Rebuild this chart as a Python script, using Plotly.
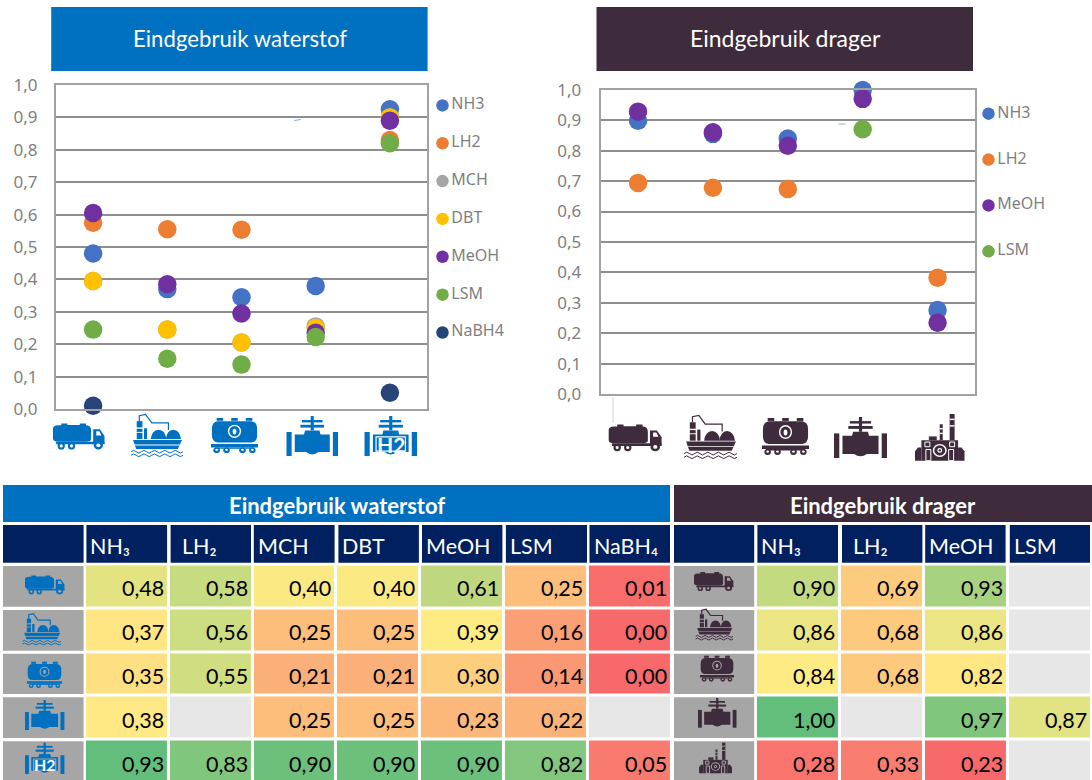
import re
import plotly.graph_objects as go

# ---------- data ----------
uses_h2 = ["Truck", "Ship", "Rail", "Pipeline", "Pipeline H2"]
uses_carrier = ["Truck", "Ship", "Rail", "Pipeline", "Industry"]

chart_h2_NH3 = [0.48, 0.37, 0.345, 0.38, 0.925]
chart_h2_LH2 = [0.575, 0.555, 0.553, None, 0.83]
chart_h2_MCH = [0.395, 0.245, 0.205, 0.255, 0.90]
chart_h2_DBT = [0.395, 0.245, 0.205, 0.25, 0.90]
chart_h2_MeOH = [0.605, 0.385, 0.295, 0.235, 0.89]
chart_h2_LSM = [0.245, 0.155, 0.137, 0.222, 0.82]
chart_h2_NaBH4 = [0.01, -0.002, -0.002, None, 0.05]

chart_c_NH3 = [0.898, 0.855, 0.84, 0.999, 0.277]
chart_c_LH2 = [0.694, 0.678, 0.674, None, 0.383]
chart_c_MeOH = [0.928, 0.86, 0.816, 0.97, 0.235]
chart_c_LSM = [None, None, None, 0.87, None]

table_h2_cols = ["NH₃", "LH₂", "MCH", "DBT", "MeOH", "LSM", "NaBH₄"]
table_h2_NH3 = [0.48, 0.37, 0.35, 0.38, 0.93]
table_h2_LH2 = [0.58, 0.56, 0.55, None, 0.83]
table_h2_MCH = [0.40, 0.25, 0.21, 0.25, 0.90]
table_h2_DBT = [0.40, 0.25, 0.21, 0.25, 0.90]
table_h2_MeOH = [0.61, 0.39, 0.30, 0.23, 0.90]
table_h2_LSM = [0.25, 0.16, 0.14, 0.22, 0.82]
table_h2_NaBH4 = [0.01, 0.00, 0.00, None, 0.05]

table_c_cols = ["NH₃", "LH₂", "MeOH", "LSM"]
table_c_NH3 = [0.90, 0.86, 0.84, 1.00, 0.28]
table_c_LH2 = [0.69, 0.68, 0.68, None, 0.33]
table_c_MeOH = [0.93, 0.86, 0.82, 0.97, 0.23]
table_c_LSM = [None, None, None, 0.87, None]

series_h2 = [("NH3", chart_h2_NH3), ("LH2", chart_h2_LH2), ("MCH", chart_h2_MCH), ("DBT", chart_h2_DBT),
             ("MeOH", chart_h2_MeOH), ("LSM", chart_h2_LSM), ("NaBH4", chart_h2_NaBH4)]
series_c = [("NH3", chart_c_NH3), ("LH2", chart_c_LH2), ("MeOH", chart_c_MeOH), ("LSM", chart_c_LSM)]
colors = {"NH3": "#4472C4", "LH2": "#ED7D31", "MCH": "#A5A5A5", "DBT": "#FFC000",
          "MeOH": "#7030A0", "LSM": "#70AD47", "NaBH4": "#264478"}

# ---------- layout helpers (pixels -> paper) ----------
W, H = 1092, 780
BLUE, PLUM, NAVY, ICONBG = "#0070C0", "#3E2B3C", "#002060", "#A6A6A6"
GRID, FRAME, TICK = "#8E8E8E", "#A2A2A2", "#7F7F7F"
fx = lambda x: x / W
fy = lambda y: 1 - y / H
dom_x = lambda a, b: [fx(a), fx(b)]
dom_y = lambda top, bottom: [fy(bottom), fy(top)]
shapes, notes = [], []


def rect(x0, y0, x1, y1, c):
    shapes.append(dict(type="rect", xref="paper", yref="paper", x0=fx(x0), x1=fx(x1), y0=fy(y0), y1=fy(y1),
                       fillcolor=c, line=dict(width=0)))


def text(x, y, s, size, color="white", anchor="center", family="Lato", weight=None):
    f = dict(family=family, size=size, color=color)
    if weight:
        f["weight"] = weight
    notes.append(dict(xref="paper", yref="paper", x=fx(x), y=fy(y), text=s, showarrow=False,
                      xanchor=anchor, yanchor="middle", font=f))


TRUCK = [("p", "M0 22 Q0 10 10 9 L16 9 L16 2 L28 2 L28 8 L52 8 L52 2 L64 2 L64 9 L68 10 Q74 14 74 30 L74 62 Q74 72 64 72 L10 72 Q0 72 0 60 Z", "f"),
         ("p", "M78 24 L91 24 L100 50 L100 80 L78 80 Z", "f"),
         ("p", "M84 32 L90 32 L94 48 L84 48 Z", "b"),
         ("r", 6, 72, 100, 82, "f"),
         ("c", 16, 88, 7, 14, "f"), ("c", 16, 88, 3, 6, "b"),
         ("c", 36, 88, 7, 14, "f"), ("c", 36, 88, 3, 6, "b"),
         ("c", 88, 86, 9, 16, "f"), ("c", 88, 86, 4, 7, "b")]
SHIP = [("r", 11, 18, 22, 58, "f"), ("r", 25, 34, 31, 58, "f"), ("r", 9, 32, 24, 35, "b"), ("r", 9, 42, 24, 44, "b"),
        ("l", "M16 18 L16 6 L28 3 L40 22 L72 22 L72 38", 1.2),
        ("p", "M38 58 Q40 38 53 37 Q66 38 68 58 Z", "f"), ("p", "M67 58 Q69 38 81 37 Q94 38 96 58 Z", "f"),
        ("p", "M4 60 L98 60 L90 80 L10 80 Z", "f"), ("r", 6, 70, 94, 72, "b"),
        ("l", "M0 86 Q5 80 10 86 Q15 92 20 86 Q25 80 30 86 Q35 92 40 86 Q45 80 50 86 Q55 92 60 86 Q65 80 70 86 Q75 92 80 86 Q85 80 90 86 Q95 92 100 86", 1),
        ("l", "M0 94 Q5 88 10 94 Q15 100 20 94 Q25 88 30 94 Q35 100 40 94 Q45 88 50 94 Q55 100 60 94 Q65 88 70 94 Q75 100 80 94 Q85 88 90 94 Q95 100 100 94", 1)]
RAIL = [("r", 12, 0, 26, 8, "f"), ("r", 43, 0, 57, 8, "f"), ("r", 74, 0, 88, 8, "f"),
        ("p", "M14 9 L86 9 Q98 12 98 30 L98 50 Q98 68 86 70 L14 70 Q2 68 2 50 L2 30 Q2 12 14 9 Z", "f"),
        ("c", 50, 38, 14, 19, "b"), ("c", 50, 38, 11, 15, "f"), ("c", 50, 39, 4, 8, "b"),
        ("r", 0, 74, 100, 84, "f"), ("r", 9, 84, 91, 88, "f"),
        ("c", 12, 92, 7, 8, "f"), ("c", 33, 92, 7, 8, "f"), ("c", 67, 92, 7, 8, "f"), ("c", 88, 92, 7, 8, "f"),
        ("c", 12, 91, 3, 3, "b"), ("c", 33, 91, 3, 3, "b"), ("c", 67, 91, 3, 3, "b"), ("c", 88, 91, 3, 3, "b")]
VALVE = [("r", 47, 0, 53, 36, "f"), ("r", 30, 10, 70, 16, "f"), ("r", 27, 22, 73, 29, "f"),
         ("p", "M36 36 L64 36 L66 46 L84 46 L84 90 L62 90 Q50 102 38 90 L16 90 L16 46 L34 46 Z", "f"),
         ("r", 0, 40, 10, 100, "f"), ("r", 90, 40, 100, 100, "f")]
VALVE_H2 = VALVE + [("s", 22, 52, 78, 88, 1.2)]
FACTORY = [("r", 50, 22, 56, 56, "f"), ("r", 50, 30, 56, 33, "b"), ("r", 50, 40, 56, 43, "b"),
           ("r", 70, 0, 80, 56, "f"), ("r", 70, 10, 80, 13, "b"), ("r", 70, 24, 80, 27, "b"),
           ("r", 28, 48, 44, 56, "f"),
           ("r", 13, 56, 87, 100, "f"),
           ("p", "M0 100 L0 80 L6 72 L13 72 L13 100 Z", "f"), ("p", "M100 100 L100 80 L94 72 L87 72 L87 100 Z", "f"),
           ("s", 20, 60, 30, 70, 1), ("s", 70, 60, 80, 70, 1),
           ("s", 22, 76, 32, 100, 1), ("s", 68, 76, 78, 100, 1),
           ("c", 50, 78, 14, 14, "b"), ("c", 50, 78, 11, 11, "f"), ("c", 50, 78, 5, 5, "b"), ("c", 50, 78, 2.5, 2.5, "f")]
ICONS = {"truck": TRUCK, "ship": SHIP, "rail": RAIL, "valve": VALVE, "h2": VALVE_H2, "factory": FACTORY}


def icon(kind, x0, y0, x1, y1, fg, bg):
    sx, sy = (x1 - x0) / 100, (y1 - y0) / 100
    px, py = lambda v: x0 + v * sx, lambda v: y0 + v * sy

    def conv(d):
        out, i = [], 0
        for tok in re.findall(r"[A-Za-z]|-?[\d.]+", d):
            if tok.isalpha():
                out.append(tok)
            else:
                out.append(str(fx(px(float(tok)))) if i % 2 == 0 else str(fy(py(float(tok)))))
                i += 1
        return " ".join(out)

    col = lambda k: fg if k == "f" else bg
    for it in ICONS[kind]:
        if it[0] == "r":
            rect(px(it[1]), py(it[2]), px(it[3]), py(it[4]), col(it[5]))
        elif it[0] == "c":
            shapes.append(dict(type="circle", xref="paper", yref="paper",
                               x0=fx(px(it[1] - it[3])), x1=fx(px(it[1] + it[3])),
                               y0=fy(py(it[2] - it[4])), y1=fy(py(it[2] + it[4])),
                               fillcolor=col(it[5]), line=dict(width=0)))
        elif it[0] == "p":
            shapes.append(dict(type="path", xref="paper", yref="paper", path=conv(it[1]),
                               fillcolor=col(it[2]), line=dict(width=0)))
        elif it[0] == "l":
            shapes.append(dict(type="path", xref="paper", yref="paper", path=conv(it[1]),
                               line=dict(width=it[2], color=fg)))
        elif it[0] == "s":
            shapes.append(dict(type="rect", xref="paper", yref="paper",
                               x0=fx(px(it[1])), x1=fx(px(it[3])), y0=fy(py(it[2])), y1=fy(py(it[4])),
                               line=dict(width=it[5], color=bg), fillcolor="rgba(0,0,0,0)"))
    if kind == "h2":
        text((x0 + x1) / 2, py(71), "<b>H2</b>", round((x1 - x0) * 0.4), "white")


fig = go.Figure()

# ---------- dot charts ----------
def dot_chart(series, cats, xa, ya):
    for name, vals in series:
        fig.add_trace(go.Scatter(x=cats, y=vals, mode="markers", name=name, xaxis=xa, yaxis=ya, cliponaxis=False,
                                 marker=dict(size=18.5, color=colors[name], line=dict(width=0)), showlegend=False))


def key(series, xa, ya):
    names = [n for n, _ in series]
    fig.add_trace(go.Scatter(x=[0] * len(names), y=names, mode="markers+text", text=names,
                             textposition="middle right", xaxis=xa, yaxis=ya, showlegend=False, cliponaxis=False,
                             marker=dict(size=12.5, color=[colors[n] for n in names]),
                             textfont=dict(family="Noto Sans", size=16, color=TICK)))


dot_chart(series_h2, uses_h2, "x", "y")
dot_chart(series_c, uses_carrier, "x2", "y2")
key(series_h2, "x5", "y5")
key(series_c, "x6", "y6")


# ---------- heat tables ----------
def heat(columns, rows, values, zmin, zmax, mid, xa, ya):
    z = [[col[r] for col in values] for r in range(len(rows))]
    blank = [[1 if v is None else None for v in row] for row in z]
    p = (mid - zmin) / (zmax - zmin)
    fig.add_trace(go.Heatmap(x=columns, y=rows, z=blank, xaxis=xa, yaxis=ya, showscale=False, xgap=3, ygap=3,
                             zmin=0, zmax=2, colorscale=[[0, "#E7E7E7"], [1, "#E7E7E7"]], hoverinfo="skip"))
    fig.add_trace(go.Heatmap(x=columns, y=rows, z=z, xaxis=xa, yaxis=ya, showscale=False, xgap=3, ygap=3,
                             zmin=zmin, zmax=zmax,
                             colorscale=[[0, "#F8696B"], [p, "#FFEB84"], [1, "#63BE7B"]]))
    for j, row in enumerate(z):
        for i, v in enumerate(row):
            if v is not None:
                notes.append(dict(xref=xa, yref=ya, x=i + 0.5, y=j, xshift=-3, yshift=-2, showarrow=False,
                                  xanchor="right", yanchor="middle", text=f"{v:.2f}".replace(".", ","),
                                  font=dict(family="Lato", size=21.5, color="#000000")))


heat(table_h2_cols, uses_h2,
     [table_h2_NH3, table_h2_LH2, table_h2_MCH, table_h2_DBT, table_h2_MeOH, table_h2_LSM, table_h2_NaBH4],
     0.0, 0.93, 0.385, "x3", "y3")
heat(table_c_cols, uses_carrier, [table_c_NH3, table_c_LH2, table_c_MeOH, table_c_LSM],
     0.23, 1.0, 0.84, "x4", "y4")

# ---------- banners, headers, icon cells ----------
rect(51.2, 7, 427.6, 71, BLUE)
rect(596.5, 7, 973, 71, PLUM)
text(240, 38, "Eindgebruik waterstof", 22.2)
text(785, 38, "Eindgebruik drager", 23)
rect(3, 485, 670, 522, BLUE)
rect(674, 485, 1092, 522, PLUM)
text(337, 505, "<b>Eindgebruik waterstof</b>", 22)
text(883, 505, "<b>Eindgebruik drager</b>", 22)

h2_edges = [(3, 83.6), (86.4, 167.1), (170.6, 251), (253.8, 334.6), (338.4, 418.9), (422, 502.4), (505.9, 587), (589.5, 670)]
c_edges = [(674, 754.2), (757.4, 838), (842, 922.4), (925.2, 1005.6), (1009.8, 1090)]
row_edges = [(566, 606.7), (610, 650.7), (653.7, 694), (697.3, 738), (741.3, 780)]
for edges, cols in ((h2_edges, table_h2_cols), (c_edges, table_c_cols)):
    for i, (a, b) in enumerate(edges):
        rect(a, 525, b, 562.7, NAVY)
        if i:
            name = cols[i - 1]
            text(a + (9 if name.startswith("LH") else 2), 546, name, 21.5, anchor="left")
    for t, b in row_edges:
        rect(edges[0][0], t, edges[0][1], b, ICONBG)

FG1, FG2 = BLUE, PLUM
for kind, box in (("truck", (53, 423, 104.5, 449)), ("ship", (131, 413, 183, 458)), ("rail", (211, 418, 258, 453)),
                  ("valve", (286.5, 416, 338, 456)), ("h2", (364.5, 416, 417, 456))):
    icon(kind, *box, FG1, "white")
for kind, box in (("truck", (608.7, 424, 661.6, 450.7)), ("ship", (684, 414, 737, 460)), ("rail", (762, 418, 809, 455)),
                  ("valve", (834, 417, 887, 458)), ("factory", (915, 414, 964.5, 460.7))):
    icon(kind, *box, FG2, "white")
for kind, box in (("truck", (25, 575, 64.4, 594)), ("ship", (22.6, 612.7, 61, 646)), ("rail", (27, 661.7, 62, 688)),
                  ("valve", (25, 700, 64.4, 730)), ("h2", (25, 742.7, 64.4, 774))):
    icon(kind, *box, FG1, ICONBG)
for kind, box in (("truck", (694, 571.7, 733.3, 590.7)), ("ship", (695.7, 608.3, 733, 641)), ("rail", (700, 655.7, 734, 681.7)),
                  ("valve", (698, 698, 736.5, 727.7)), ("factory", (699, 742.7, 732, 773.3))):
    icon(kind, *box, FG2, ICONBG)

# small stray marks of the source picture
for x0, y0, x1, y1, c in ((294, 120.5, 301, 119.5, "#8FAADC"), (838.5, 124, 845.5, 124, "#8FAADC"), (613, 397, 613, 423, "#D5D5D5")):
    shapes.append(dict(type="line", xref="paper", yref="paper", x0=fx(x0), x1=fx(x1), y0=fy(y0), y1=fy(y1),
                       line=dict(color=c, width=1)))

# ---------- axes ----------
def val_axis(top, bottom, ticklen):
    return dict(domain=dom_y(top, bottom), range=[0, 1], tickmode="array", tickvals=[i / 10 for i in range(11)],
                tickformat=".1f", showgrid=True, gridcolor=GRID, gridwidth=1.5, zeroline=False, automargin=False,
                showline=True, mirror=True, linecolor=FRAME, linewidth=2,
                ticks="outside", ticklen=ticklen, tickcolor="rgba(0,0,0,0)",
                tickfont=dict(family="Noto Sans", size=17, color=TICK))


def cat_axis(a, b):
    return dict(domain=dom_x(a, b), range=[-0.5, 4.5], type="category", showgrid=False, zeroline=False, automargin=False,
                showticklabels=False, ticks="", showline=True, mirror=True, linecolor=FRAME, linewidth=2)


hidden = dict(visible=False, fixedrange=True, automargin=False)
fig.update_layout(
    template="none",
    width=W, height=H, margin=dict(l=0, r=0, t=0, b=0, pad=0, autoexpand=False), autosize=False,
    paper_bgcolor="white", plot_bgcolor="rgba(0,0,0,0)", separators=",.", showlegend=False,
    font=dict(family="Lato"), shapes=shapes, annotations=notes,
    xaxis=dict(cat_axis(56, 427), anchor="y"), yaxis=dict(val_axis(85, 409, 13), anchor="x"),
    xaxis2=dict(cat_axis(600.6, 975), anchor="y2"), yaxis2=dict(val_axis(89.7, 394.3, 14), anchor="x2"),
    xaxis3=dict(hidden, domain=dom_x(84.9, 671.5), type="category", range=[-0.5, 6.5], anchor="y3"),
    yaxis3=dict(hidden, domain=dom_y(564.5, 780), type="category", range=[4.42, -0.5], anchor="x3"),
    xaxis4=dict(hidden, domain=dom_x(755.9, 1091.5), type="category", range=[-0.5, 3.5], anchor="y4"),
    yaxis4=dict(hidden, domain=dom_y(564.5, 780), type="category", range=[4.42, -0.5], anchor="x4"),
    xaxis5=dict(hidden, domain=dom_x(436.5, 536.5), range=[-0.06, 0.94], anchor="y5"),
    yaxis5=dict(hidden, domain=dom_y(86.5, 351.4), type="category", range=[6.5, -0.5], anchor="x5"),
    xaxis6=dict(hidden, domain=dom_x(982.5, 1082.5), range=[-0.06, 0.94], anchor="y6"),
    yaxis6=dict(hidden, domain=dom_y(90.7, 274.3), type="category", range=[3.5, -0.5], anchor="x6"),
)

fig.write_html("out.html", config=dict(displayModeBar=False),
               post_script="document.body.style.margin='0';document.documentElement.style.overflow='hidden';")
